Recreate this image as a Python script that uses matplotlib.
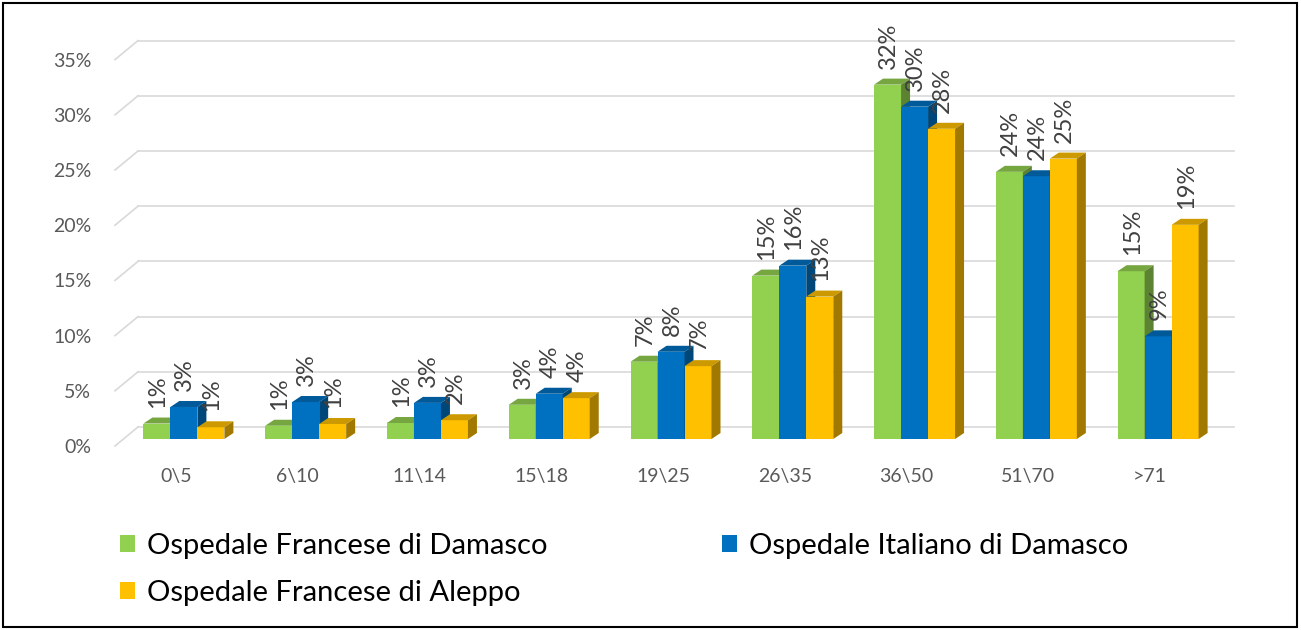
import numpy as np
import matplotlib
matplotlib.use('Agg')
from matplotlib import pyplot as plt
from matplotlib.patches import Polygon, Rectangle, Patch
from matplotlib.colors import to_rgb

plt.rcParams['font.family'] = ['Lato', 'DejaVu Sans']

# data (percent)
categories = ['0\\5', '6\\10', '11\\14', '15\\18', '19\\25', '26\\35', '36\\50', '51\\70', '>71']
francese_damasco = [1.4, 1.2, 1.45, 3.1, 7.0, 14.8, 32.1, 24.2, 15.2]
italiano_damasco = [2.9, 3.35, 3.27, 4.1, 7.9, 15.7, 30.1, 23.8, 9.3]
francese_aleppo = [1.06, 1.36, 1.7, 3.7, 6.6, 12.9, 28.1, 25.4, 19.4]
series_names = ['Ospedale Francese di Damasco', 'Ospedale Italiano di Damasco',
                'Ospedale Francese di Aleppo']
y_ticks = [0, 5, 10, 15, 20, 25, 30, 35]

colors = ['#92D050', '#0070C0', '#FFC000']
series = [francese_damasco, italiano_damasco, francese_aleppo]

W, H = 1301, 630
fig = plt.figure(figsize=(W / 100, H / 100), dpi=100)

## layout (pixels) ##########################################
ax_left, ax_width = 115, 1096
ax_bottom = 446
ppy = 11.04            # pixels per percent
ymax = 36
ppx = ax_width / len(categories)
#############################################################

ax = fig.add_axes([ax_left / W, (H - ax_bottom) / H, ax_width / W, ymax * ppy / H])
ax.set_xlim(-0.5, len(categories) - 0.5)
ax.set_ylim(0, ymax)
ax.patch.set_visible(False)
for s in ax.spines.values():
    s.set_visible(False)

# back wall gridlines with the little diagonal on the left
gdx, gdy = 23 / ppx, 19 / ppy
grid_c = '#D9D9D9'
for t in y_ticks:
    ax.plot([-0.5, -0.5 + gdx], [t, t + gdy], color=grid_c, lw=1.2, clip_on=False, zorder=1)
    ax.plot([-0.5 + gdx, len(categories) - 0.5 + gdx], [t + gdy, t + gdy],
            color=grid_c, lw=1.2, clip_on=False, zorder=1)

# 3d-ish bars
bw = 27 / ppx
bdx, bdy = 9 / ppx, 6 / ppy
shift_x = 8 / ppx
base = 7 / ppy
z = 2
for i in range(len(categories)):
    for j, (vals, c) in enumerate(zip(series, colors)):
        v = vals[i]
        x0 = i + shift_x + (j - 1.5) * bw
        x1 = x0 + bw
        top = base + v
        rgb = np.array(to_rgb(c))
        ax.bar(x0, v, width=bw, bottom=base, align='edge', color=c, zorder=z, clip_on=False)
        ax.add_patch(Polygon([(x0, top), (x1, top), (x1 + bdx, top + bdy), (x0 + bdx, top + bdy)],
                             closed=True, facecolor=rgb * 0.8, edgecolor='none', zorder=z, clip_on=False))
        ax.add_patch(Polygon([(x1, base), (x1, top), (x1 + bdx, top + bdy), (x1 + bdx, base + bdy)],
                             closed=True, facecolor=rgb * 0.63, edgecolor='none', zorder=z, clip_on=False))
        ax.text((x0 + x1) / 2 + 1 / ppx, top + 16 / ppy, f'{round(v)}%', rotation=90,
                ha='center', va='bottom', fontsize=17, color='#404040', zorder=100, clip_on=False)
        z += 1

ax.set_yticks(y_ticks, [f'{t}%' for t in y_ticks])
ax.set_xticks(range(len(categories)), categories)
ax.tick_params(axis='y', length=0, pad=17, labelsize=14, labelcolor='#595959')
ax.tick_params(axis='x', length=0, pad=16, labelsize=14, labelcolor='#595959')

# legend
handles = [Patch(facecolor=c, edgecolor='none') for c in colors]
leg_kw = dict(loc='upper left', frameon=False, fontsize=21, handlelength=0.52, handleheight=0.55,
              handletextpad=0.4, labelspacing=0.72, borderaxespad=0, borderpad=0)
fig.legend([handles[0], handles[2]], [series_names[0], series_names[2]],
           bbox_to_anchor=(120 / W, 1 - 533 / H), **leg_kw)
fig.legend([handles[1]], [series_names[1]],
           bbox_to_anchor=(722 / W, 1 - 533 / H), **leg_kw)

# outer frame
fig.add_artist(Rectangle((3 / W, 3 / H), 1294 / W, 624 / H, transform=fig.transFigure,
                         fill=False, lw=1.5, edgecolor='black'))

fig.savefig('out.png', dpi=100)
